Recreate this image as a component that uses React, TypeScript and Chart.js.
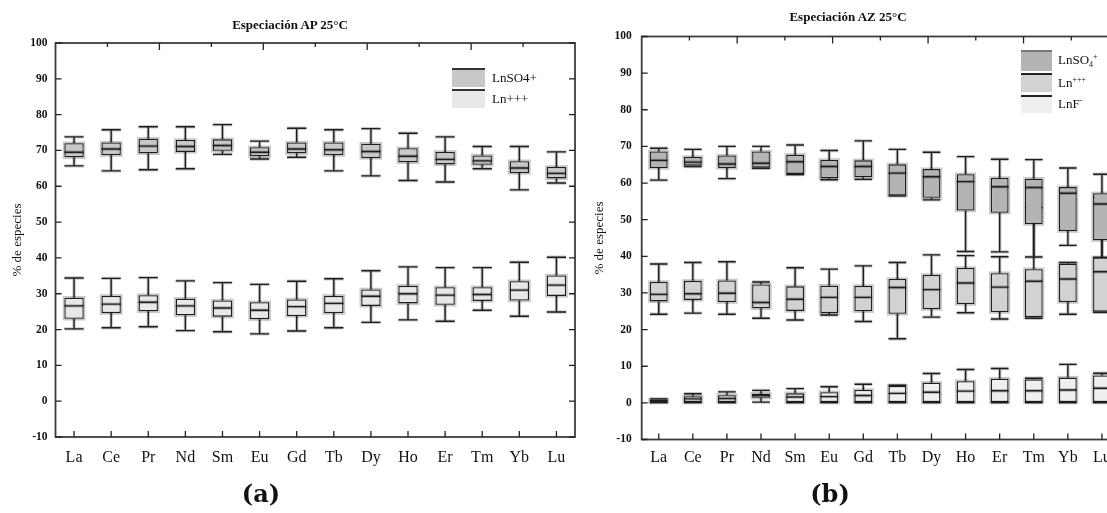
import React, { useEffect, useRef } from 'react';
import { Chart, registerables } from 'chart.js';

Chart.register(...registerables);

const categories = ['La', 'Ce', 'Pr', 'Nd', 'Sm', 'Eu', 'Gd', 'Tb', 'Dy', 'Ho', 'Er', 'Tm', 'Yb', 'Lu'];
const yTickMin = -10;
const yTickMax = 100;
const yTickStep = 10;

// (a) Especiación AP 25°C — LnSO4+
const apSO4Min = [65.7, 64.3, 64.6, 64.9, 68.9, 67.6, 68.1, 64.3, 62.9, 61.6, 61.2, 64.9, 59.0, 60.9];
const apSO4Q1 = [68.1, 68.7, 69.2, 69.6, 69.9, 68.4, 69.2, 68.7, 67.9, 66.7, 66.1, 66.0, 63.7, 62.2];
const apSO4Med = [69.5, 70.4, 71.2, 71.1, 71.4, 69.5, 70.4, 70.2, 69.7, 68.4, 67.5, 67.1, 65.1, 63.6];
const apSO4Q3 = [72.0, 72.2, 73.3, 72.9, 73.1, 70.9, 72.2, 72.2, 71.9, 70.6, 69.6, 68.6, 67.0, 65.4];
const apSO4Max = [73.8, 75.8, 76.6, 76.6, 77.2, 72.6, 76.2, 75.8, 76.1, 74.8, 73.8, 71.1, 71.1, 69.6];

// (a) Ln+++
const apLnMin = [20.2, 20.5, 20.8, 19.7, 19.4, 18.8, 19.6, 20.5, 22.0, 22.7, 22.3, 25.4, 23.7, 24.9];
const apLnQ1 = [23.0, 24.6, 25.1, 24.0, 23.6, 22.9, 23.8, 24.6, 26.6, 27.3, 26.9, 28.0, 28.1, 29.4];
const apLnMed = [26.6, 27.1, 27.6, 26.6, 26.0, 25.4, 26.4, 27.3, 29.3, 30.0, 29.6, 29.8, 31.0, 32.4];
const apLnQ3 = [28.9, 29.4, 29.6, 28.6, 28.1, 27.6, 28.4, 29.4, 31.2, 32.2, 31.8, 31.8, 33.5, 35.1];
const apLnMax = [34.4, 34.3, 34.5, 33.6, 33.1, 32.6, 33.5, 34.2, 36.4, 37.5, 37.3, 37.3, 38.8, 40.2];

// (b) Especiación AZ 25°C — LnSO4+
const azSO4Min = [60.8, 64.5, 61.2, 64.0, 62.3, 60.9, 61.0, 56.5, 55.4, 41.3, 41.2, 39.8, 43.0, 39.7];
const azSO4Q1 = [64.1, 64.8, 64.1, 64.2, 62.5, 61.3, 61.6, 56.6, 56.0, 52.5, 51.9, 48.8, 46.9, 44.4];
const azSO4Med = [66.2, 65.7, 65.2, 65.4, 65.8, 64.5, 64.5, 62.7, 61.7, 60.4, 59.0, 58.8, 57.2, 54.3];
const azSO4Q3 = [68.6, 67.1, 67.5, 68.6, 67.7, 66.3, 66.2, 65.1, 63.8, 62.4, 61.4, 61.2, 58.9, 57.2];
const azSO4Max = [69.5, 69.2, 70.0, 70.0, 70.4, 68.9, 71.5, 69.2, 68.4, 67.2, 66.5, 66.4, 64.1, 62.4];

// (b) Ln+++
const azLnMin = [24.2, 24.5, 24.2, 23.1, 22.6, 24.0, 22.2, 17.5, 23.4, 24.6, 22.9, 23.1, 24.2, 24.7];
const azLnQ1 = [27.7, 28.1, 27.5, 25.8, 25.1, 24.5, 25.0, 24.3, 25.6, 27.0, 24.8, 23.4, 27.5, 24.9];
const azLnMed = [29.6, 29.8, 29.9, 27.4, 28.3, 28.8, 28.8, 31.5, 30.9, 32.7, 31.6, 33.2, 33.8, 35.8];
const azLnQ3 = [33.0, 33.3, 33.4, 32.3, 31.8, 32.0, 31.9, 33.8, 34.9, 36.8, 35.4, 36.5, 38.0, 39.7];
const azLnMax = [37.9, 38.3, 38.5, 33.0, 36.9, 36.5, 37.4, 38.3, 40.4, 40.2, 39.9, 53.3, 38.3, 56.1];

// (b) LnF-
const azFMin = [0.1, 0.1, 0.1, 0.2, 0.1, 0.1, 0.1, 0.1, 0.1, 0.1, 0.1, 0.1, 0.1, 0.1];
const azFQ1 = [0.2, 0.2, 0.2, 1.4, 0.2, 0.2, 0.2, 0.2, 0.2, 0.2, 0.2, 0.2, 0.2, 0.2];
const azFMed = [0.5, 1.1, 1.2, 2.0, 1.6, 1.7, 2.0, 2.6, 2.9, 3.2, 3.3, 3.3, 3.5, 4.0];
const azFQ3 = [0.9, 1.8, 2.1, 2.5, 2.6, 2.9, 3.5, 4.6, 5.5, 5.9, 6.6, 6.4, 6.9, 7.5];
const azFMax = [1.1, 2.5, 3.0, 3.4, 3.9, 4.4, 5.1, 4.8, 8.0, 9.1, 9.4, 6.7, 10.5, 8.1];

const LINE = '#1e1e1e';
const HALO = 'rgba(0,0,0,0.22)';

function makeBox(label: string, q1: number[], q3: number[], min: number[], med: number[], max: number[], fill: string) {
  return {
    label,
    data: q1.map((v, i) => [v, q3[i]]),
    stats: { min, med, max },
    backgroundColor: fill,
    borderColor: LINE,
    borderWidth: 1.3,
    borderSkipped: false,
    barPercentage: 0.52,
    categoryPercentage: 1,
    grouped: false,
  } as any;
}

const boxPlugin = {
  id: 'boxWhiskers',
  beforeDatasetDraw(chart: any, args: any) {
    const ctx = chart.ctx;
    ctx.save();
    ctx.strokeStyle = HALO;
    ctx.lineWidth = 3.4;
    args.meta.data.forEach((el: any) => {
      const { x, y, base, width } = el.getProps(['x', 'y', 'base', 'width'], true);
      const top = Math.min(y, base);
      ctx.strokeRect(x - width / 2, top, width, Math.abs(base - y));
    });
    ctx.restore();
  },
  afterDatasetDraw(chart: any, args: any) {
    const ds = chart.data.datasets[args.index];
    const st = ds.stats;
    if (!st) return;
    const ys = chart.scales.y;
    const ctx = chart.ctx;
    ctx.save();
    args.meta.data.forEach((el: any, i: number) => {
      const { x, width } = el.getProps(['x', 'width'], true);
      const hw = width / 2;
      const pQ1 = ys.getPixelForValue(ds.data[i][0]);
      const pQ3 = ys.getPixelForValue(ds.data[i][1]);
      const pMin = ys.getPixelForValue(st.min[i]);
      const pMed = ys.getPixelForValue(st.med[i]);
      const pMax = ys.getPixelForValue(st.max[i]);
      const segs = [
        [x, pQ3, x, pMax],
        [x - hw, pMax, x + hw, pMax],
        [x, pQ1, x, pMin],
        [x - hw, pMin, x + hw, pMin],
        [x - hw, pMed, x + hw, pMed],
      ];
      [[HALO, 3.4], [LINE, 1.4]].forEach(([c, w]) => {
        ctx.strokeStyle = c as string;
        ctx.lineWidth = w as number;
        ctx.beginPath();
        segs.forEach(([a, b, c2, d]) => {
          ctx.moveTo(a, b);
          ctx.lineTo(c2, d);
        });
        ctx.stroke();
      });
    });
    ctx.restore();
  },
};

const framePlugin = {
  id: 'frameTicks',
  afterDatasetsDraw(chart: any) {
    const { left, right, top, bottom } = chart.chartArea;
    const ctx = chart.ctx;
    const ys = chart.scales.y;
    const xs = chart.scales.x;
    ctx.save();
    ctx.strokeStyle = '#3c3c3c';
    ctx.lineWidth = 1.8;
    ctx.strokeRect(left, top, right - left, bottom - top);
    ctx.strokeStyle = '#222';
    ctx.lineWidth = 1.3;
    ctx.beginPath();
    ys.ticks.forEach((t: any) => {
      const py = ys.getPixelForValue(t.value);
      ctx.moveTo(left, py);
      ctx.lineTo(left + 6, py);
      ctx.moveTo(right - 6, py);
      ctx.lineTo(right, py);
    });
    xs.ticks.forEach((_t: any, i: number) => {
      const px = xs.getPixelForTick(i);
      ctx.moveTo(px, bottom);
      ctx.lineTo(px, bottom - 6);
    });
    for (let i = 1; i < 10; i++) {
      const px = left + ((right - left) * i) / 10;
      ctx.moveTo(px, top);
      ctx.lineTo(px, top + (i % 2 === 0 ? 7 : 4));
    }
    ctx.stroke();
    ctx.restore();
  },
};

function makeOptions(pad: any, yWidth: number, yLabelPad: number, xLabelPad: number) {
  return {
    animation: false,
    responsive: false,
    layout: { padding: pad },
    plugins: { legend: { display: false }, tooltip: { enabled: false }, title: { display: false } },
    scales: {
      x: {
        type: 'category',
        offset: true,
        grid: { display: false, drawTicks: false },
        border: { display: false },
        ticks: { autoSkip: false, maxRotation: 0, padding: xLabelPad, color: '#111', font: { family: "'Liberation Serif', serif", size: 16 } },
        afterFit: (s: any) => { s.height = 40; },
      },
      y: {
        min: yTickMin,
        max: yTickMax,
        grid: { display: false, drawTicks: false },
        border: { display: false },
        ticks: { stepSize: yTickStep, padding: yLabelPad, color: '#111', font: { family: "'Liberation Serif', serif", size: 11.5, weight: 'bold' } },
        title: { display: true, text: '% de especies', color: '#111', padding: { top: 4, bottom: 4 }, font: { family: "'Liberation Serif', serif", size: 13 } },
        afterFit: (s: any) => { s.width = yWidth; },
      },
    },
  } as any;
}

function BoxChart({ datasets, width, pad, yWidth, yLabelPad, xLabelPad, style }: any) {
  const ref = useRef<HTMLCanvasElement>(null);
  useEffect(() => {
    if (!ref.current) return;
    const chart = new Chart(ref.current, {
      type: 'bar',
      data: { labels: categories, datasets },
      options: makeOptions(pad, yWidth, yLabelPad, xLabelPad),
      plugins: [boxPlugin, framePlugin],
    } as any);
    return () => chart.destroy();
  }, []);
  return <canvas ref={ref} width={width} height={513} style={{ position: 'absolute', top: 0, ...style, width, height: 513 }} />;
}

const txt: React.CSSProperties = { position: 'absolute', fontFamily: "'Liberation Serif', serif", color: '#111', whiteSpace: 'nowrap' };

export default function App() {
  const apSets = [
    makeBox('LnSO4+', apSO4Q1, apSO4Q3, apSO4Min, apSO4Med, apSO4Max, '#c8c8c8'),
    makeBox('Ln+++', apLnQ1, apLnQ3, apLnMin, apLnMed, apLnMax, '#e8e8e8'),
  ];
  const azSets = [
    makeBox('LnSO4+', azSO4Q1, azSO4Q3, azSO4Min, azSO4Med, azSO4Max, '#b4b4b4'),
    makeBox('Ln+++', azLnQ1, azLnQ3, azLnMin, azLnMed, azLnMax, '#d2d2d2'),
    makeBox('LnF-', azFQ1, azFQ3, azFMin, azFMed, azFMax, '#efefef'),
  ];
  const sub: React.CSSProperties = { fontSize: 8, verticalAlign: -3, lineHeight: 0 };
  const sup: React.CSSProperties = { fontSize: 8, verticalAlign: 5, lineHeight: 0 };
  return (
    <div style={{ position: 'absolute', left: 0, top: 0, width: 1107, height: 513, overflow: 'hidden', background: '#fff' }}>
      <BoxChart datasets={apSets} width={580} pad={{ left: 6, top: 43, right: 5, bottom: 36 }} yWidth={49.5} yLabelPad={8} xLabelPad={11} style={{ left: 0 }} />
      <BoxChart datasets={azSets} width={550} pad={{ left: 3, top: 36.5, right: 16, bottom: 33.5 }} yWidth={53.7} yLabelPad={10} xLabelPad={9} style={{ left: 585 }} />

      <div style={{ ...txt, left: 140, width: 300, top: 17, lineHeight: '16px', textAlign: 'center', fontWeight: 'bold', fontSize: 13 }}>Especiación AP 25°C</div>
      <div style={{ ...txt, left: 698, width: 300, top: 9, lineHeight: '16px', textAlign: 'center', fontWeight: 'bold', fontSize: 13 }}>Especiación AZ 25°C</div>

      {/* legend (a) */}
      <div style={{ position: 'absolute', left: 452, top: 68, width: 33, height: 17, background: '#c8c8c8', borderTop: '2px solid #333' }} />
      <div style={{ position: 'absolute', left: 452, top: 89, width: 33, height: 17, background: '#e8e8e8', borderTop: '2px solid #333' }} />
      <div style={{ ...txt, left: 492, top: 70, lineHeight: '16px', fontSize: 13 }}>LnSO4+</div>
      <div style={{ ...txt, left: 492, top: 91, lineHeight: '16px', fontSize: 13 }}>Ln+++</div>

      {/* legend (b) */}
      <div style={{ position: 'absolute', left: 1021, top: 50, width: 31, height: 19, background: '#b4b4b4', borderTop: '2px solid #777' }} />
      <div style={{ position: 'absolute', left: 1021, top: 73, width: 31, height: 17, background: '#d2d2d2', borderTop: '2px solid #222' }} />
      <div style={{ position: 'absolute', left: 1021, top: 95, width: 31, height: 16, background: '#efefef', borderTop: '2px solid #222' }} />
      <div style={{ ...txt, left: 1058, top: 52, lineHeight: '16px', fontSize: 13 }}>LnSO<span style={sub}>4</span><span style={sup}>+</span></div>
      <div style={{ ...txt, left: 1058, top: 75, lineHeight: '16px', fontSize: 13 }}>Ln<span style={sup}>+++</span></div>
      <div style={{ ...txt, left: 1058, top: 96, lineHeight: '16px', fontSize: 13 }}>LnF<span style={sup}>-</span></div>

      <div style={{ ...txt, left: 211, width: 100, top: 479, lineHeight: '30px', textAlign: 'center', fontFamily: "'DejaVu Serif', serif", fontWeight: 'bold', fontSize: 24 }}>(a)</div>
      <div style={{ ...txt, left: 780, width: 100, top: 479, lineHeight: '30px', textAlign: 'center', fontFamily: "'DejaVu Serif', serif", fontWeight: 'bold', fontSize: 24 }}>(b)</div>
    </div>
  );
}
